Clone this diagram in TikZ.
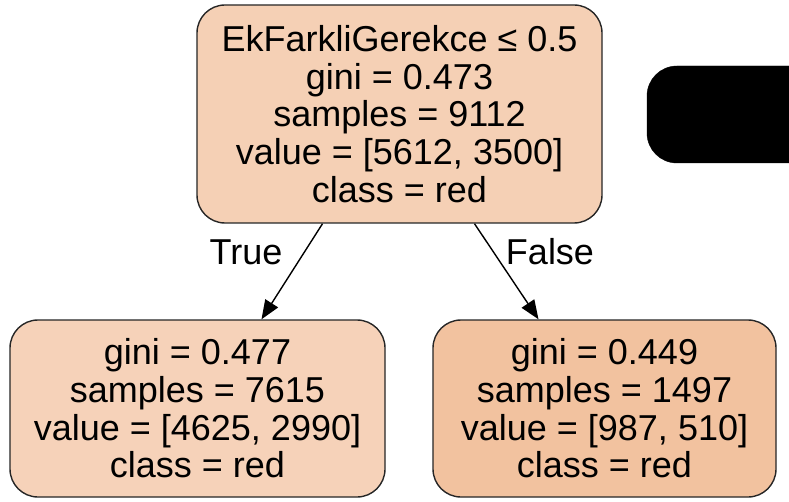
\documentclass[tikz,border=0pt]{standalone}
\usepackage{fontspec}
\setmainfont{Liberation Sans}
\usetikzlibrary{arrows.meta}
\definecolor{rootfill}{RGB}{245,208,181}
\definecolor{leftfill}{RGB}{246,210,185}
\definecolor{rightfill}{RGB}{242,194,159}
\tikzset{
  treebox/.style={draw=black!85, line width=1.4pt, rounded corners=28pt, align=center, inner sep=0pt,
    font=\fontsize{36}{37.6}\selectfont},
  edgearrow/.style={draw=black, line width=1.4pt, -{Triangle[length=19pt,width=15pt]}},
  edgelabel/.style={font=\fontsize{36}{37.6}\selectfont, inner sep=0pt}
}
\begin{document}
\begin{tikzpicture}[x=1pt,y=-1pt]
\useasboundingbox (0,0) rectangle (789,502);
\fill[white] (0,0) rectangle (789,502);
\node[treebox, fill=rootfill, minimum width=405pt, minimum height=218pt] (root) at (399.5,114)
  {EkFarkliGerekce ≤ 0.5\\gini = 0.473\\samples = 9112\\value = [5612, 3500]\\class = red};
\node[treebox, fill=leftfill, minimum width=375pt, minimum height=177pt] (lc) at (197.5,408.5)
  {gini = 0.477\\samples = 7615\\value = [4625, 2990]\\class = red};
\node[treebox, fill=rightfill, minimum width=343pt, minimum height=177pt] (rc) at (604.5,408.5)
  {gini = 0.449\\samples = 1497\\value = [987, 510]\\class = red};
\begin{scope}
  \clip (0,0) rectangle (789,502);
  \node[draw=black, fill=black, rounded corners=30pt, minimum width=190pt, minimum height=97pt, inner sep=0pt] (hidden) at (742,114.5) {};
\end{scope}
\draw[edgearrow] ([xshift=-77pt]root.south) -- ([xshift=64pt]lc.north);
\draw[edgearrow] ([xshift=75pt]root.south) -- ([xshift=-66pt]rc.north);
\node[edgelabel] (tlabel) at (246,252) {True};
\node[edgelabel] (flabel) at (550,252) {False};
\end{tikzpicture}
\end{document}
